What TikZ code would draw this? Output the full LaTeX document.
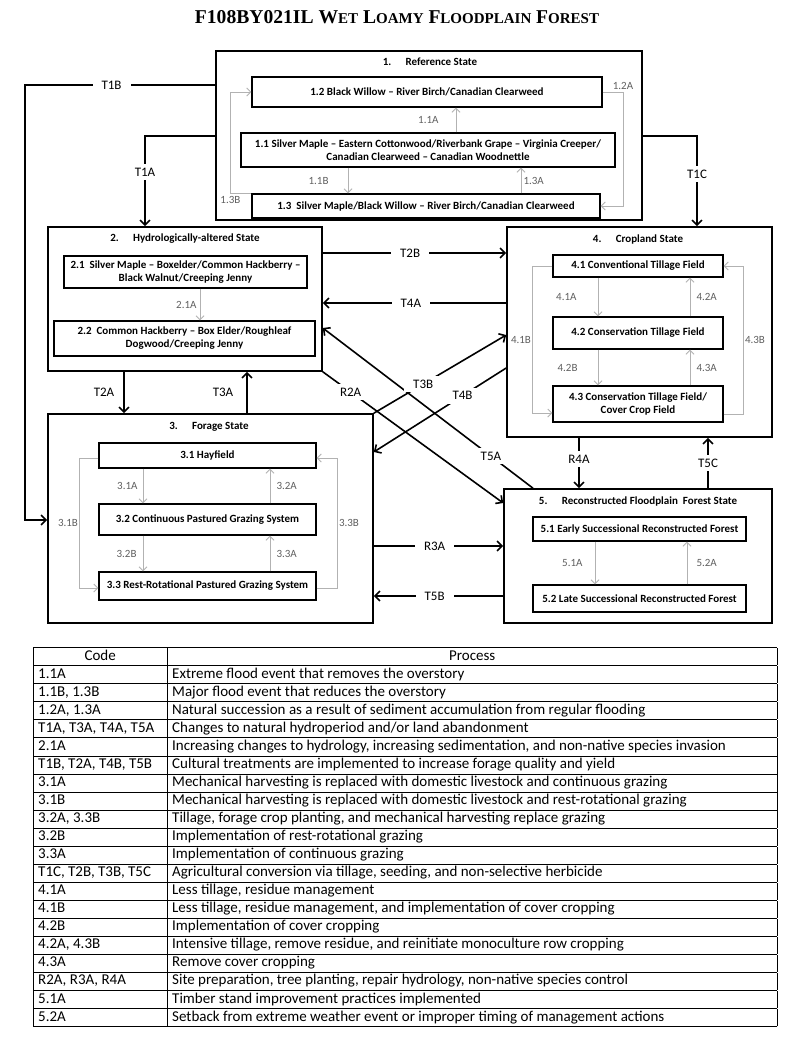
\documentclass[tikz,border=0pt]{standalone}
\usepackage{fontspec}
\setmainfont{Carlito}
\newfontfamily\titlefont{Liberation Serif}
\usetikzlibrary{arrows.meta}

\newcommand\smc[1]{{\fontsize{15}{15}\selectfont #1}}

\tikzset{
  statebox/.style={draw,line width=1.6pt,inner sep=0pt},
  stitle/.style={font=\bfseries\fontsize{11}{12}\selectfont,inner sep=1pt},
  phase/.style={draw,line width=1.1pt,inner sep=0pt,align=center,
    font=\bfseries\fontsize{11}{13}\selectfont},
  trans/.style={line width=1.6pt,-{Straight Barb[length=5pt,width=10pt]}},
  sub/.style={draw=gray!60,line width=1pt,-{Straight Barb[length=4pt,width=8pt]}},
  lab/.style={fill=white,inner xsep=9pt,inner ysep=4pt,font=\fontsize{13}{13}\selectfont},
  glab/.style={text=gray!75!black,inner sep=1pt,font=\fontsize{11}{11}\selectfont}
}

\begin{document}
\begin{tikzpicture}[x=1pt,y=-1pt]
\useasboundingbox (0,0) rectangle (800,1061);
\fill[white] (0,0) rectangle (800,1061);

% heading
\node (title) at (397,17) {\titlefont\bfseries\fontsize{19.6}{19.6}\selectfont
  F108BY021IL W\smc{ET} L\smc{OAMY} F\smc{LOODPLAIN} F\smc{OREST}};

% state boxes
\node[statebox,minimum width=426pt,minimum height=169pt] (s1) at (429,135.5) {};
\node[statebox,minimum width=274pt,minimum height=144pt] (s2) at (185,299) {};
\node[statebox,minimum width=325pt,minimum height=209pt] (s3) at (210.5,518.5) {};
\node[statebox,minimum width=265pt,minimum height=210pt] (s4) at (639.5,332) {};
\node[statebox,minimum width=268pt,minimum height=134pt] (s5) at (638,556) {};

\node[stitle] (t1) at (430,62) {1.\hspace{1.3em}Reference State};
\node[stitle] (t2) at (185,239) {2.\hspace{1.3em}Hydrologically-altered State};
\node[stitle] (t3) at (209,427) {3.\hspace{1.3em}Forage State};
\node[stitle] (t4) at (638,239) {4.\hspace{1.3em}Cropland State};
\node[stitle] (t5) at (638,501) {5.\hspace{1.3em}Reconstructed Floodplain\ \ Forest State};

% community phases
\node[phase,minimum width=350pt,minimum height=30pt] (b12) at (427,92)
  {1.2 Black Willow -- River Birch/Canadian Clearweed};
\node[phase,minimum width=374pt,minimum height=34pt] (b11) at (428,150)
  {1.1 Silver Maple -- Eastern Cottonwood/Riverbank Grape -- Virginia Creeper/\\
   Canadian Clearweed -- Canadian Woodnettle};
\node[phase,minimum width=348pt,minimum height=24pt] (b13) at (426,206)
  {1.3\ \ Silver Maple/Black Willow -- River Birch/Canadian Clearweed};
\node[phase,minimum width=243pt,minimum height=32pt] (b21) at (185.5,272)
  {2.1\ \ Silver Maple -- Boxelder/Common Hackberry --\\ Black Walnut/Creeping Jenny};
\node[phase,minimum width=261pt,minimum height=35pt] (b22) at (184.5,338.5)
  {2.2\ \ Common Hackberry -- Box Elder/Roughleaf\\ Dogwood/Creeping Jenny};
\node[phase,minimum width=217pt,minimum height=25pt] (b31) at (207.5,455.5) {3.1 Hayfield};
\node[phase,minimum width=217pt,minimum height=31pt] (b32) at (207.5,519.5)
  {3.2 Continuous Pastured Grazing System};
\node[phase,minimum width=217pt,minimum height=28pt] (b33) at (207.5,586)
  {3.3 Rest-Rotational Pastured Grazing System};
\node[phase,minimum width=170pt,minimum height=22pt] (b41) at (638,266)
  {4.1 Conventional Tillage Field};
\node[phase,minimum width=170pt,minimum height=32pt] (b42) at (638,333)
  {4.2 Conservation Tillage Field};
\node[phase,minimum width=170pt,minimum height=36pt] (b43) at (638,404)
  {4.3 Conservation Tillage Field/\\ Cover Crop Field};
\node[phase,minimum width=213pt,minimum height=24pt] (b51) at (639.5,529)
  {5.1 Early Successional Reconstructed Forest};
\node[phase,minimum width=213pt,minimum height=27pt] (b52) at (639.5,598.5)
  {5.2 Late Successional Reconstructed Forest};

% pathways inside the states
\draw[sub] (b11.north -| 456,0) -- node[glab,left=16pt]{1.1A} (b12.south -| 456,0);
\draw[sub] (b11.south -| 348,0) -- node[glab,left=18pt]{1.1B} (b13.north -| 348,0);
\draw[sub] (b13.north -| 521,0) -- node[glab,right=1pt]{1.3A} (b11.south -| 521,0);
\draw[sub] (b12.east) -- (b12.east -| 623,0) node[glab,above=1pt]{1.2A} |- (b13.east);
\draw[sub] (b13.north west) -- ++(-21,0) node[glab,below=1pt]{1.3B} |- (b12.west);
\draw[sub] (b21.south -| 200,0) -- node[glab,left=2pt]{2.1A} (b22.north -| 200,0);
\draw[sub] (b31.south -| 143,0) -- node[glab,left=4pt]{3.1A} (b32.north -| 143,0);
\draw[sub] (b32.north -| 270,0) -- node[glab,right=5pt]{3.2A} (b31.south -| 270,0);
\draw[sub] (b32.south -| 143,0) -- node[glab,left=5pt]{3.2B} (b33.north -| 143,0);
\draw[sub] (b33.north -| 270,0) -- node[glab,right=5pt]{3.3A} (b32.south -| 270,0);
\draw[sub] (b31.west |- 0,458) -- ++(-19,0) |- node[glab,left,pos=0.25]{3.1B} (b33.west |- 0,588);
\draw[sub] (b33.east |- 0,588) -- ++(21,0) |- node[glab,right,pos=0.25]{3.3B} (b31.east |- 0,458);
\draw[sub] (b41.south -| 598,0) -- node[glab,left=20pt]{4.1A} (b42.north -| 598,0);
\draw[sub] (b42.north -| 690,0) -- node[glab,right=5pt]{4.2A} (b41.south -| 690,0);
\draw[sub] (b42.south -| 598,0) -- node[glab,left=19pt]{4.2B} (b43.north -| 598,0);
\draw[sub] (b43.north -| 690,0) -- node[glab,right=5pt]{4.3A} (b42.south -| 690,0);
\draw[sub] (b41.west) -- ++(-20,0) |- node[glab,left,pos=0.25]{4.1B} (b43.west |- 0,413);
\draw[sub] (b43.east |- 0,414) -- ++(20,0) |- node[glab,right,pos=0.25]{4.3B} (b41.east);
\draw[sub] (b51.south -| 595,0) -- node[glab,left=11pt]{5.1A} (b52.north -| 595,0);
\draw[sub] (b52.north -| 687,0) -- node[glab,right=8pt]{5.2A} (b51.south -| 687,0);

% transitions and restorations
\draw[trans] (s1.west |- 0,85) -- node[lab,pos=0.545]{T1B} (25,85) -- (25,520) -- (s3.west |- 0,520);
\draw[trans] (s1.west |- 0,136) -| node[lab,pos=0.7]{T1A} (s2.north -| 145,0);
\draw[trans] (s1.east |- 0,136) -| node[lab,pos=0.71]{T1C} (s4.north -| 697,0);
\draw[trans] (s2.south -| 124,0) -- node[lab,inner xsep=2pt,left=7pt]{T2A} (s3.north -| 124,0);
\draw[trans] (s3.north -| 247,0) -- node[lab,inner xsep=2pt,left=11pt]{T3A} (s2.south -| 247,0);
\draw[trans] (s2.east |- 0,253) -- node[lab,pos=0.476]{T2B} (s4.west |- 0,253);
\draw[trans] (s4.west |- 0,303) -- node[lab,pos=0.52]{T4A} (s2.east |- 0,303);
\draw[trans] (s4.south -| 579,0) -- node[lab,pos=0.42]{R4A} (s5.north -| 579,0);
\draw[trans] (s5.north -| 708,0) -- node[lab,pos=0.5]{T5C} (s4.south -| 708,0);
\draw[trans] (s3.east |- 0,546) -- node[lab,pos=0.47]{R3A} (s5.west |- 0,546);
\draw[trans] (s5.west |- 0,596) -- node[lab,pos=0.53]{T5B} (s3.east |- 0,596);
\draw[trans] (s5.north -| 533,0) -- node[lab,pos=0.2]{T5A} (s2.east |- 0,328);
\draw[trans] (s2.south east) -- node[lab,pos=0.154]{R2A} (s5.west |- 0,503);
\draw[trans] (s3.north east) -- node[lab,pos=0.373]{T3B} (s4.west |- 0,335);
\draw[trans] (s4.west |- 0,368) -- node[lab,pos=0.33]{T4B} (s3.east |- 0,452);

% legend table
\node[anchor=north west,inner sep=0pt] (tab) at (33,647) {%
  \setlength\tabcolsep{5pt}\setlength\arrayrulewidth{0.8pt}%
  \fontsize{15}{17.25}\selectfont
  \begin{tabular}{|p{124pt}|p{600pt}|}
  \hline
  \multicolumn{1}{|c|}{Code} & \multicolumn{1}{c|}{Process}\\ \hline
  1.1A & Extreme flood event that removes the overstory\\ \hline
  1.1B, 1.3B & Major flood event that reduces the overstory\\ \hline
  1.2A, 1.3A & Natural succession as a result of sediment accumulation from regular flooding\\ \hline
  T1A, T3A, T4A, T5A & Changes to natural hydroperiod and/or land abandonment\\ \hline
  2.1A & Increasing changes to hydrology, increasing sedimentation, and non-native species invasion\\ \hline
  T1B, T2A, T4B, T5B & Cultural treatments are implemented to increase forage quality and yield\\ \hline
  3.1A & Mechanical harvesting is replaced with domestic livestock and continuous grazing\\ \hline
  3.1B & Mechanical harvesting is replaced with domestic livestock and rest-rotational grazing\\ \hline
  3.2A, 3.3B & Tillage, forage crop planting, and mechanical harvesting replace grazing\\ \hline
  3.2B & Implementation of rest-rotational grazing\\ \hline
  3.3A & Implementation of continuous grazing\\ \hline
  T1C, T2B, T3B, T5C & Agricultural conversion via tillage, seeding, and non-selective herbicide\\ \hline
  4.1A & Less tillage, residue management\\ \hline
  4.1B & Less tillage, residue management, and implementation of cover cropping\\ \hline
  4.2B & Implementation of cover cropping\\ \hline
  4.2A, 4.3B & Intensive tillage, remove residue, and reinitiate monoculture row cropping\\ \hline
  4.3A & Remove cover cropping\\ \hline
  R2A, R3A, R4A & Site preparation, tree planting, repair hydrology, non-native species control\\ \hline
  5.1A & Timber stand improvement practices implemented\\ \hline
  5.2A & Setback from extreme weather event or improper timing of management actions\\ \hline
  \end{tabular}};
\end{tikzpicture}
\end{document}
